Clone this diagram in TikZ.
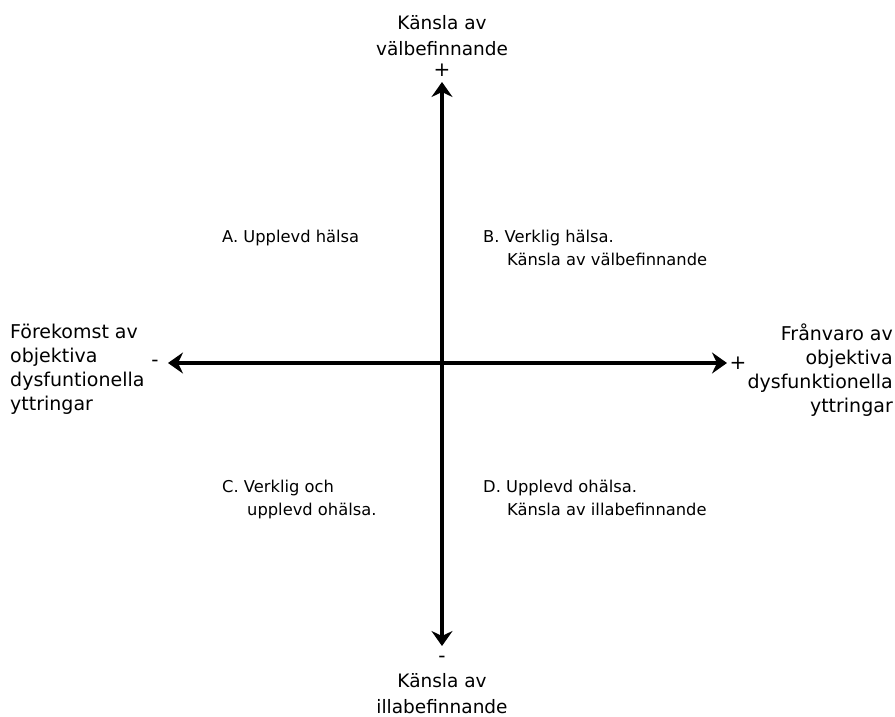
\documentclass[tikz,border=0pt]{standalone}
\usepackage{fontspec}
\setmainfont{DejaVu Sans}
\usepackage{tikz}
\usetikzlibrary{arrows.meta}

\tikzset{
  axis/.style={line width=4pt, {Stealth[length=15pt,width=21pt,inset=5pt]}-{Stealth[length=15pt,width=21pt,inset=5pt]}},
  axislabel/.style={font=\fontsize{19}{24}\selectfont, inner sep=0pt},
  quadlabel/.style={font=\fontsize{16.3}{23}\selectfont, inner sep=0pt, align=left, anchor=north west},
  sign/.style={font=\fontsize{20}{20}\selectfont, inner sep=0pt}
}

\begin{document}
\begin{tikzpicture}[x=1pt, y=-1pt]
    \useasboundingbox (0,0) rectangle (895,717);

    % axis ends
    \coordinate (T) at (442,82);
    \coordinate (B) at (442,646);
    \coordinate (L) at (168,363);
    \coordinate (R) at (727,363);

    \draw[axis] (B) -- (T);
    \draw[axis] (L) -- (R);

    % signs
    \node[sign] (plusT) at (442,70) {+};
    \node[sign] (minusB) at (442,659) {-};
    \node[sign] (minusL) at (155,363) {-};
    \node[sign] (plusR) at (738,363) {+};

    % axis labels
    \node[axislabel, align=center, anchor=north, font=\fontsize{18.5}{26}\selectfont] (top) at (442,15) {Känsla av\\välbefinnande};
    \node[axislabel, align=center, anchor=north, font=\fontsize{18.5}{26}\selectfont] (bottom) at (442,673) {Känsla av\\illabefinnande};
    \node[axislabel, align=left, anchor=north west] (left) at (10,323.5) {Förekomst av\\objektiva\\dysfuntionella\\yttringar};
    \node[axislabel, align=right, anchor=north east] (right) at (893,323.5) {Frånvaro av\\objektiva\\dysfunktionella\\yttringar};

    % quadrants
    \node[quadlabel] (qA) at (222,229.5) {A. Upplevd hälsa};
    \node[quadlabel] (qB) at (483,229.5) {B. Verklig hälsa.\\\hspace*{24pt}Känsla av välbefinnande};
    \node[quadlabel] (qC) at (222,479.5) {C. Verklig och\\\hspace*{25pt}upplevd ohälsa.};
    \node[quadlabel] (qD) at (483,479.5) {D. Upplevd ohälsa.\\\hspace*{24pt}Känsla av illabefinnande};
\end{tikzpicture}
\end{document}
